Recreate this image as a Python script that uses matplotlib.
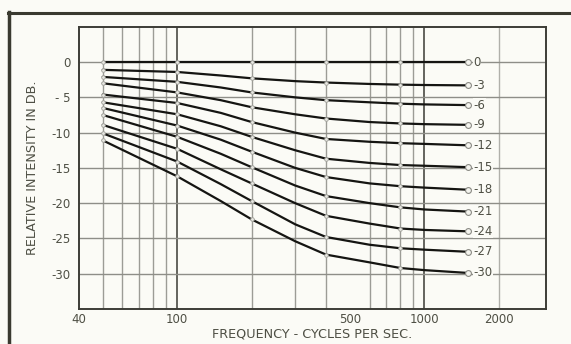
import matplotlib
matplotlib.use('Agg')
import matplotlib.pyplot as plt
from matplotlib.ticker import FixedLocator, NullFormatter

freqs = [50, 100, 150, 200, 300, 400, 600, 800, 1000, 1500]
# frequencies that carry a small circle on the original
marker_freqs = [50, 100, 200, 400, 800]

# relative intensity (dB) of each curve, one list per curve
curve_0 = [0.0, 0.0, 0.0, 0.0, 0.0, 0.0, 0.0, 0.0, 0.0, 0.0]
curve_3 = [-1.1, -1.4, -1.9, -2.3, -2.7, -2.9, -3.1, -3.2, -3.25, -3.3]
curve_6 = [-2.1, -2.8, -3.6, -4.3, -5.0, -5.4, -5.7, -5.9, -6.0, -6.1]
curve_9 = [-3.0, -4.3, -5.4, -6.4, -7.4, -8.0, -8.5, -8.7, -8.8, -8.9]
curve_12 = [-4.6, -5.8, -7.2, -8.5, -10.0, -10.9, -11.3, -11.5, -11.6, -11.8]
curve_15 = [-5.7, -7.4, -9.1, -10.6, -12.5, -13.7, -14.3, -14.6, -14.7, -14.9]
curve_18 = [-6.5, -9.0, -11.0, -12.7, -15.0, -16.3, -17.2, -17.6, -17.8, -18.1]
curve_21 = [-7.5, -10.6, -13.0, -14.9, -17.5, -19.0, -20.0, -20.6, -20.9, -21.2]
curve_24 = [-8.9, -12.3, -15.2, -17.2, -20.0, -21.8, -22.9, -23.6, -23.8, -24.0]
curve_27 = [-10.1, -14.1, -17.3, -19.7, -23.0, -24.8, -25.9, -26.4, -26.6, -26.9]
curve_30 = [-11.1, -16.2, -19.7, -22.3, -25.4, -27.3, -28.4, -29.2, -29.5, -29.9]

curves = [curve_0, curve_3, curve_6, curve_9, curve_12, curve_15,
          curve_18, curve_21, curve_24, curve_27, curve_30]
curve_labels = ['0', '-3', '-6', '-9', '-12', '-15', '-18', '-21', '-24', '-27', '-30']

x_ticks = [40, 100, 500, 1000, 2000]
x_minor = [50, 60, 70, 80, 90, 200, 300, 400, 600, 700, 800, 900]
y_ticks = [0, -5, -10, -15, -20, -25, -30]
y_tick_labels = ['0', '- 5', '-10', '-15', '-20', '-25', '-30']

bg = '#fbfbf6'
ink = '#4e4f44'

fig = plt.figure(figsize=(5.71, 3.44), dpi=100, facecolor=bg)
ax = fig.add_axes([0.138, 0.102, 0.818, 0.820], facecolor=bg)

ax.set_xscale('log')
ax.set_xlim(40, 3100)
ax.set_ylim(-35, 5)

# grid
for f in x_minor:
	ax.axvline(f, color='#9c9c96', lw=1.0, zorder=1)
for f in [100, 1000]:
	ax.axvline(f, color='#4a4a44', lw=1.2, zorder=1)
ax.axvline(2000, color='#b0b0aa', lw=1.0, zorder=1)
for v in y_ticks:
	ax.axhline(v, color='#8e8e88', lw=1.0, zorder=1)

# curves
idx = [freqs.index(f) for f in marker_freqs]
for vals, lab in zip(curves, curve_labels):
	ax.plot(freqs, vals, color='#151512', lw=1.6, zorder=3, solid_capstyle='round')
	ax.plot(marker_freqs, [vals[i] for i in idx], 'o', ms=2.6, mfc='#e8e8e2',
		mec='#a0a09a', mew=0.6, zorder=4)
	ax.plot(freqs[-1], vals[-1], 'o', ms=4.2, mfc='#f4f4ee', mec='#8a8a84', mew=0.8, zorder=4)
	ax.annotate(lab, (freqs[-1], vals[-1]), xytext=(4, 0), textcoords='offset points',
		ha='left', va='center', fontsize=8.5, color=ink, zorder=5,
		bbox=dict(boxstyle='square,pad=0.05', fc=bg, ec='none'))

ax.xaxis.set_major_locator(FixedLocator(x_ticks))
ax.xaxis.set_minor_locator(FixedLocator(x_minor))
ax.xaxis.set_minor_formatter(NullFormatter())
ax.set_xticklabels([str(t) for t in x_ticks])
ax.set_yticks(y_ticks)
ax.set_yticklabels(y_tick_labels)
ax.tick_params(axis='x', which='both', length=0, labelsize=8.5, colors=ink, pad=3)
ax.tick_params(axis='y', which='both', length=0, labelsize=8.5, colors=ink, pad=6)

for s in ax.spines.values():
	s.set_color('#3c3c36')
	s.set_linewidth(1.4)

ax.set_xlabel('FREQUENCY - CYCLES PER SEC.', fontsize=9.2, color=ink, labelpad=1)
ax.set_ylabel('RELATIVE INTENSITY IN DB.', fontsize=9.2, color=ink, labelpad=9)

# page frame of the scan
fig.add_artist(plt.Line2D([0.016, 0.016], [0.0, 0.965], color='#3a3a30', lw=2.5, transform=fig.transFigure))
fig.add_artist(plt.Line2D([0.014, 1.0], [0.962, 0.962], color='#3a3a30', lw=2.2, transform=fig.transFigure))

fig.savefig('out.png', dpi=100, facecolor=bg)
